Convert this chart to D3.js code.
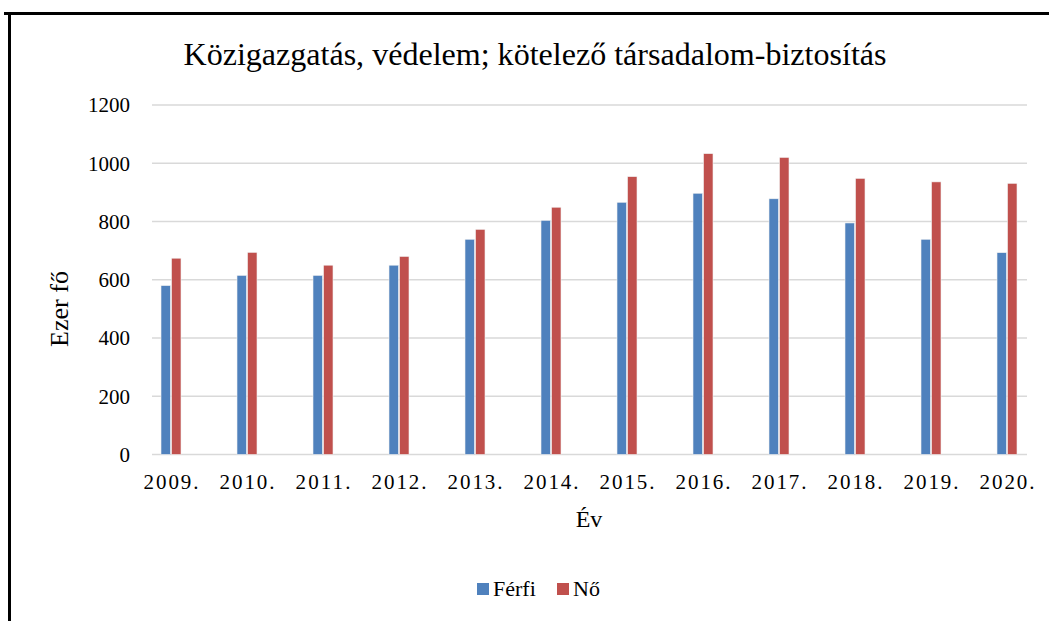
<!DOCTYPE html>
<html>
<head>
<meta charset="utf-8">
<script src="https://cdn.jsdelivr.net/npm/d3@7"></script>
<style>
  body { margin: 0; background: #fff; }
  text { font-family: "Liberation Serif", "Times New Roman", serif; fill: #000; }
</style>
</head>
<body>
<div id="chart"></div>
<script>
const years = ["2009.", "2010.", "2011.", "2012.", "2013.", "2014.", "2015.", "2016.", "2017.", "2018.", "2019.", "2020."]
const ferfi = [580, 615, 615, 650, 739, 804, 866, 897, 878, 795, 739, 693]
const no = [674, 694, 650, 680, 773, 849, 954, 1033, 1020, 948, 936, 931]
const series = ["Férfi", "Nő"]
const yTicks = [0, 200, 400, 600, 800, 1000, 1200]
const colors = ["#4F81BD", "#C0504D"]

const width = 1049
const height = 621

const svg = d3.select("#chart").append("svg").attr("width", width).attr("height", height)

// frame (only top and left edges visible)
svg.append("line").attr("x1", 4).attr("x2", width).attr("y1", 13.5).attr("y2", 13.5).attr("stroke", "#000").attr("stroke-width", 3)
svg.append("line").attr("x1", 9.5).attr("x2", 9.5).attr("y1", 12).attr("y2", height).attr("stroke", "#000").attr("stroke-width", 3)

const x = d3.scaleBand().domain(years).range([133, 1045])
const x1 = d3.scaleBand().domain(series).range([x.bandwidth() / 2 - 10, x.bandwidth() / 2 + 10]).paddingInner(0.1)
const y = d3.scaleLinear().domain([0, 1200]).range([454.5, 105])

const gridLeft = 152, gridRight = 1027

svg.append("g").selectAll("line").data(yTicks).enter().append("line")
    .attr("x1", gridLeft).attr("x2", gridRight)
    .attr("y1", d => y(d)).attr("y2", d => y(d))
    .attr("stroke", "#d9d9d9").attr("stroke-width", 1.5)

svg.append("g").selectAll("text").data(yTicks).enter().append("text")
    .attr("x", 130).attr("y", d => y(d)).attr("dy", "0.35em")
    .attr("text-anchor", "end").style("font-size", "21px")
    .text(d => d)

const rows = years.map((yr, i) => ({ year: yr, values: [ferfi[i], no[i]] }))

const groups = svg.append("g").selectAll("g").data(rows).enter().append("g")
    .attr("transform", d => `translate(${x(d.year)},0)`)

groups.selectAll("rect").data(d => d.values.map((v, j) => ({ key: series[j], value: v, c: colors[j] }))).enter().append("rect")
    .attr("x", d => x1(d.key)).attr("width", x1.bandwidth())
    .attr("y", d => y(d.value)).attr("height", d => y(0) - y(d.value))
    .attr("fill", d => d.c).attr("stroke", "#f2f2f2").attr("stroke-width", 0.6)

svg.append("g").selectAll("text").data(years).enter().append("text")
    .attr("x", d => x(d) + x.bandwidth() / 2).attr("y", 489)
    .attr("text-anchor", "middle").style("font-size", "21px")
    .attr("textLength", 55).attr("lengthAdjust", "spacing")
    .text(d => d)

svg.append("text").attr("x", 535).attr("y", 65).attr("text-anchor", "middle")
    .style("font-size", "31px").attr("textLength", 703).attr("lengthAdjust", "spacingAndGlyphs")
    .text("Közigazgatás, védelem; kötelező társadalom-biztosítás")

svg.append("text").attr("x", 589).attr("y", 527).attr("text-anchor", "middle")
    .style("font-size", "24px").text("Év")

svg.append("text").attr("transform", "translate(68,309) rotate(-90)").attr("text-anchor", "middle")
    .style("font-size", "26px").text("Ezer fő")

// legend
const legendX = [477, 557]
const legend = svg.append("g").selectAll("g").data(series).enter().append("g")
    .attr("transform", (d, i) => `translate(${legendX[i]},583)`)
legend.append("rect").attr("width", 12).attr("height", 12).attr("fill", (d, i) => colors[i])
legend.append("text").attr("x", 16).attr("y", 13).style("font-size", "22px").text(d => d)
</script>
</body>
</html>
